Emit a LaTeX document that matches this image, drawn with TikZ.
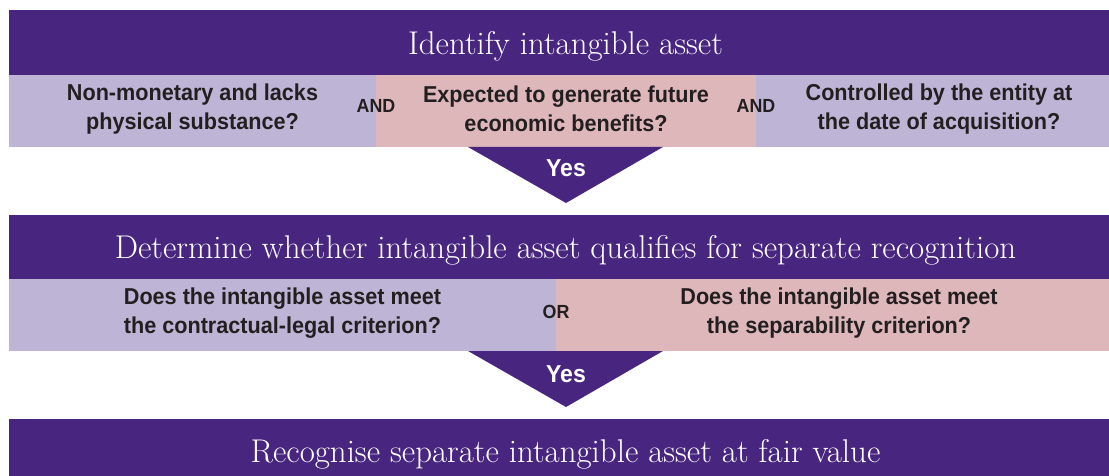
\documentclass[tikz,border=0pt]{standalone}
\usepackage{fontspec}
\newfontfamily\condsans[FakeStretch=0.94]{Liberation Sans}
\usetikzlibrary{calc}
\definecolor{dpurple}{HTML}{482680}
\definecolor{lav}{HTML}{BEB4D5}
\definecolor{rose}{HTML}{DDB7BA}
\definecolor{ink}{HTML}{231F20}
\tikzset{
  band/.style={rectangle, inner sep=0pt, outer sep=0pt, anchor=north west, minimum height=#1},
  titletext/.style={text=white, inner sep=0pt, anchor=base, font=\fontsize{32.9}{38}\selectfont},
  question/.style={text=ink, inner sep=0pt, align=center, anchor=center, font=\condsans\bfseries\fontsize{23}{29}\selectfont},
  joiner/.style={text=ink, inner sep=0pt, anchor=base, font=\condsans\bfseries\fontsize{19}{22}\selectfont},
  yestext/.style={text=white, inner sep=0pt, anchor=base, font=\condsans\bfseries\fontsize{24.5}{28}\selectfont},
  arrowhead/.style={fill=dpurple}
}
\begin{document}
\begin{tikzpicture}[x=1pt,y=-1pt]
\useasboundingbox (0,0) rectangle (1109,476);
\clip (0,0) rectangle (1109,476);
% ---- block 1
\node[band=65, fill=dpurple, minimum width=1113] (top1) at (9,10) {};
\node[band=72, fill=lav, minimum width=367] (r1a) at (9,75) {};
\node[band=72, fill=rose, minimum width=380] (r1b) at (376,75) {};
\node[band=72, fill=lav, minimum width=366] (r1c) at (756,75) {};
\node[titletext] (t1) at ($(top1.north)+(0,45)$) {Identify intangible asset};
\node[question] (q1a) at ($(r1a.center)+(0,-2)$) {Non-monetary and lacks\\physical substance?};
\node[question] (q1b) at ($(r1b.center)+(0,-2)$) {Expected to generate future\\economic benefits?};
\node[question] (q1c) at ($(r1c.center)+(0,-2)$) {Controlled by the entity at\\the date of acquisition?};
\node[joiner] (and1) at ($(r1a.south east)+(0,-34)$) {AND};
\node[joiner] (and2) at ($(r1b.south east)+(0,-34)$) {AND};
% ---- arrow 1
\coordinate (a1l) at (468,147);
\coordinate (a1r) at (663,147);
\coordinate (a1t) at (566,203);
\fill[arrowhead] (a1l) -- (a1r) -- (a1t) -- cycle;
\node[yestext] (yes1) at ($(a1t)+(0,-26)$) {Yes};
% ---- block 2
\node[band=64, fill=dpurple, minimum width=1113] (top2) at (9,215) {};
\node[band=72, fill=lav, minimum width=547] (r2a) at (9,279) {};
\node[band=72, fill=rose, minimum width=566] (r2b) at (556,279) {};
\node[titletext] (t2) at ($(top2.north)+(0,43)$) {Determine whether intangible asset qualifies for separate recognition};
\node[question] (q2a) at ($(r2a.center)+(0,-2)$) {Does the intangible asset meet\\the contractual-legal criterion?};
\node[question] (q2b) at ($(r2b.center)+(0,-2)$) {Does the intangible asset meet\\the separability criterion?};
\node[joiner] (or1) at ($(r2a.south east)+(0,-33)$) {OR};
% ---- arrow 2
\coordinate (a2l) at (468,351);
\coordinate (a2r) at (663,351);
\coordinate (a2t) at (566,407);
\fill[arrowhead] (a2l) -- (a2r) -- (a2t) -- cycle;
\node[yestext] (yes2) at ($(a2t)+(0,-25)$) {Yes};
% ---- block 3
\node[band=70, fill=dpurple, minimum width=1113] (top3) at (9,419) {};
\node[titletext] (t3) at ($(top3.north)+(0,43)$) {Recognise separate intangible asset at fair value};
\end{tikzpicture}
\end{document}
